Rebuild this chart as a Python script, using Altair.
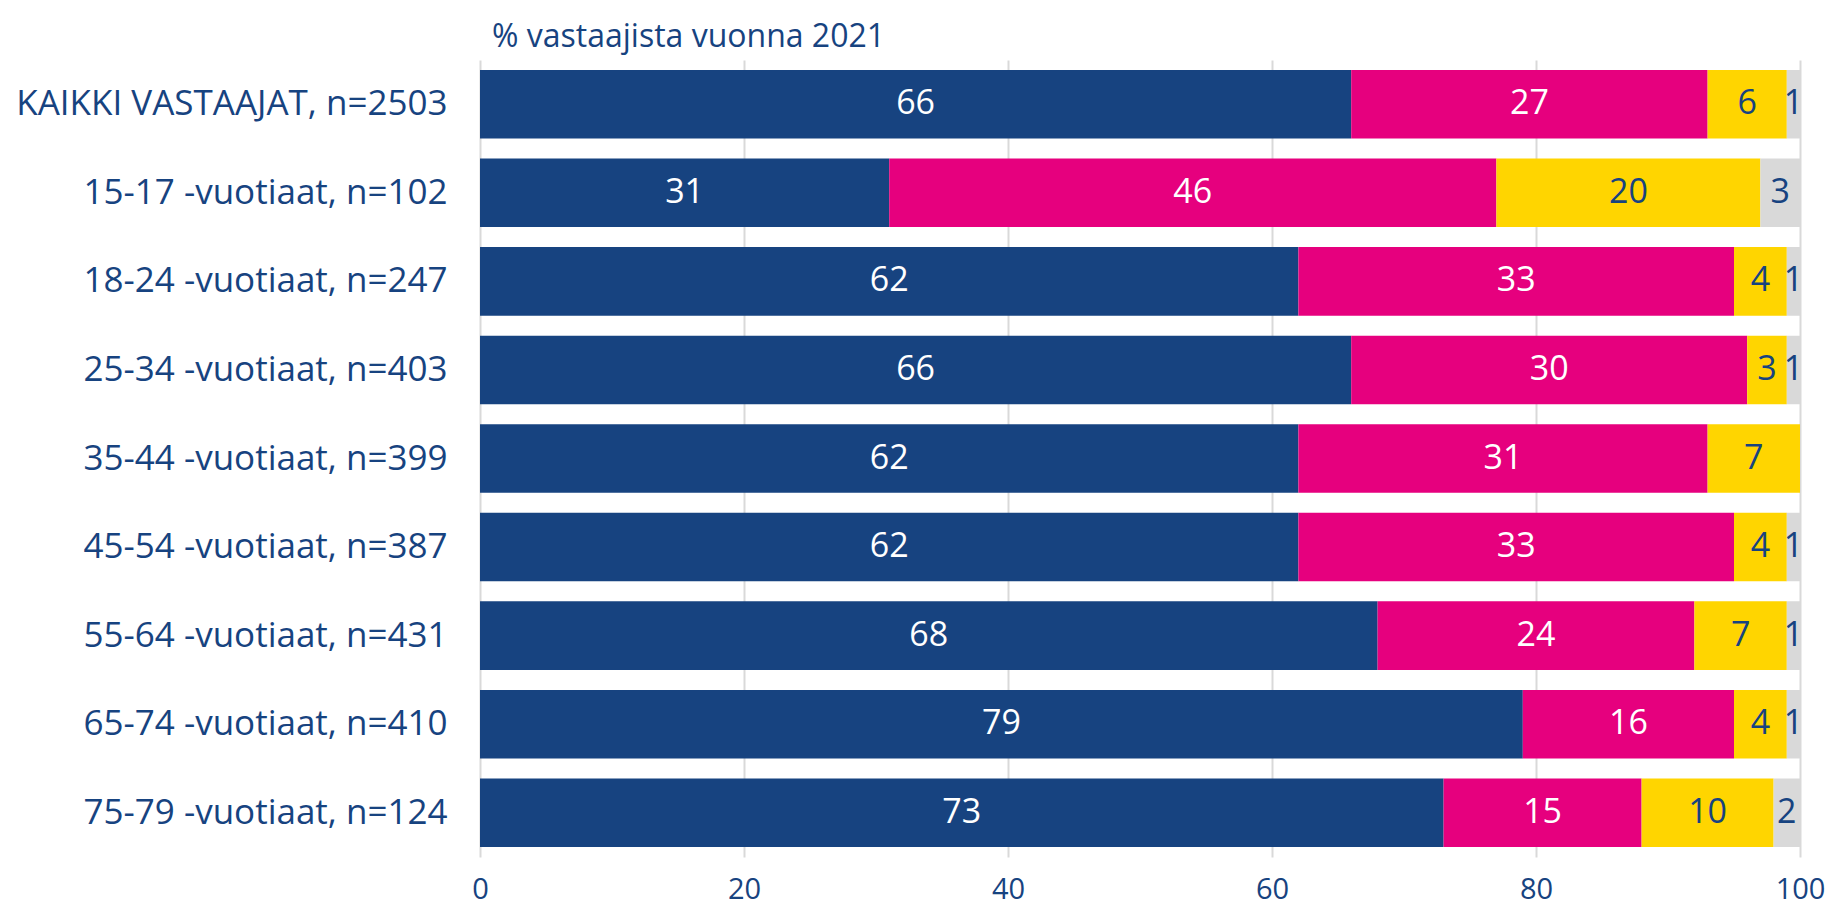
import altair as alt
import pandas as pd

categories = [
    "KAIKKI VASTAAJAT, n=2503",
    "15-17 -vuotiaat, n=102",
    "18-24 -vuotiaat, n=247",
    "25-34 -vuotiaat, n=403",
    "35-44 -vuotiaat, n=399",
    "45-54 -vuotiaat, n=387",
    "55-64 -vuotiaat, n=431",
    "65-74 -vuotiaat, n=410",
    "75-79 -vuotiaat, n=124",
]
series_names = ["s1", "s2", "s3", "s4"]
series_colors = ["#174380", "#E6007E", "#FFD500", "#D9D9D9"]
label_colors = ["#FFFFFF", "#FFFFFF", "#174380", "#174380"]

s1 = [66, 31, 62, 66, 62, 62, 68, 79, 73]
s2 = [27, 46, 33, 30, 31, 33, 24, 16, 15]
s3 = [6, 20, 4, 3, 7, 4, 7, 4, 10]
s4 = [1, 3, 1, 1, 0, 1, 1, 1, 2]

title_text = "% vastaajista vuonna 2021"
x_ticks = [0, 20, 40, 60, 80, 100]

rows = []
for si, vals in enumerate([s1, s2, s3, s4]):
    for ci, cat in enumerate(categories):
        if vals[ci] > 0:
            rows.append({"cat": cat, "series": series_names[si], "idx": si,
                         "value": vals[ci], "tcol": label_colors[si]})
df = pd.DataFrame(rows)

FONT = "Open Sans"
BLUE = "#174380"

base = alt.Chart(df).transform_stack(
    stack="value", as_=["x0", "x1"], groupby=["cat"],
    sort=[alt.SortField("idx", order="ascending")]
).transform_calculate(mid="(datum.x0 + datum.x1) / 2")

y_enc = alt.Y("cat:N", sort=categories, title=None,
              scale=alt.Scale(paddingInner=0.226, paddingOuter=0.113),
              axis=alt.Axis(domain=False, ticks=False, labelFontSize=35,
                            labelColor=BLUE, labelFont=FONT, labelPadding=33,
                            labelLimit=0, grid=False))

x_scale = alt.Scale(domain=[0, 100], nice=False, zero=True)

bars = base.mark_bar().encode(
    x=alt.X("x0:Q", scale=x_scale, title=None,
            axis=alt.Axis(values=x_ticks, grid=True, gridColor="#D9D9D9",
                          gridWidth=2, domain=False, ticks=False,
                          labelFontSize=29, labelColor=BLUE, labelFont=FONT,
                          labelPadding=18, labelFlush=False)),
    x2="x1:Q",
    y=y_enc,
    color=alt.Color("series:N", scale=alt.Scale(domain=series_names, range=series_colors),
                    legend=None),
)

texts = base.mark_text(fontSize=34, font=FONT, align="center", baseline="middle").encode(
    x=alt.X("mid:Q", scale=x_scale),
    y=alt.Y("cat:N", sort=categories),
    text=alt.Text("value:Q"),
    color=alt.Color("tcol:N", scale=None),
)

chart = alt.layer(bars, texts).properties(
    width=1320, height=797,
    padding={"left": 472, "top": 52, "right": 26, "bottom": 50},
    autosize=alt.AutoSizeParams(type="none"),
    title=alt.TitleParams(text=title_text, anchor="start", frame="group", dx=12,
                          offset=-19, baseline="alphabetic", fontSize=32, font=FONT,
                          fontWeight="normal", color=BLUE),
).configure_view(stroke=None)

chart.save("out.html", embed_options={"renderer": "svg", "actions": False})
